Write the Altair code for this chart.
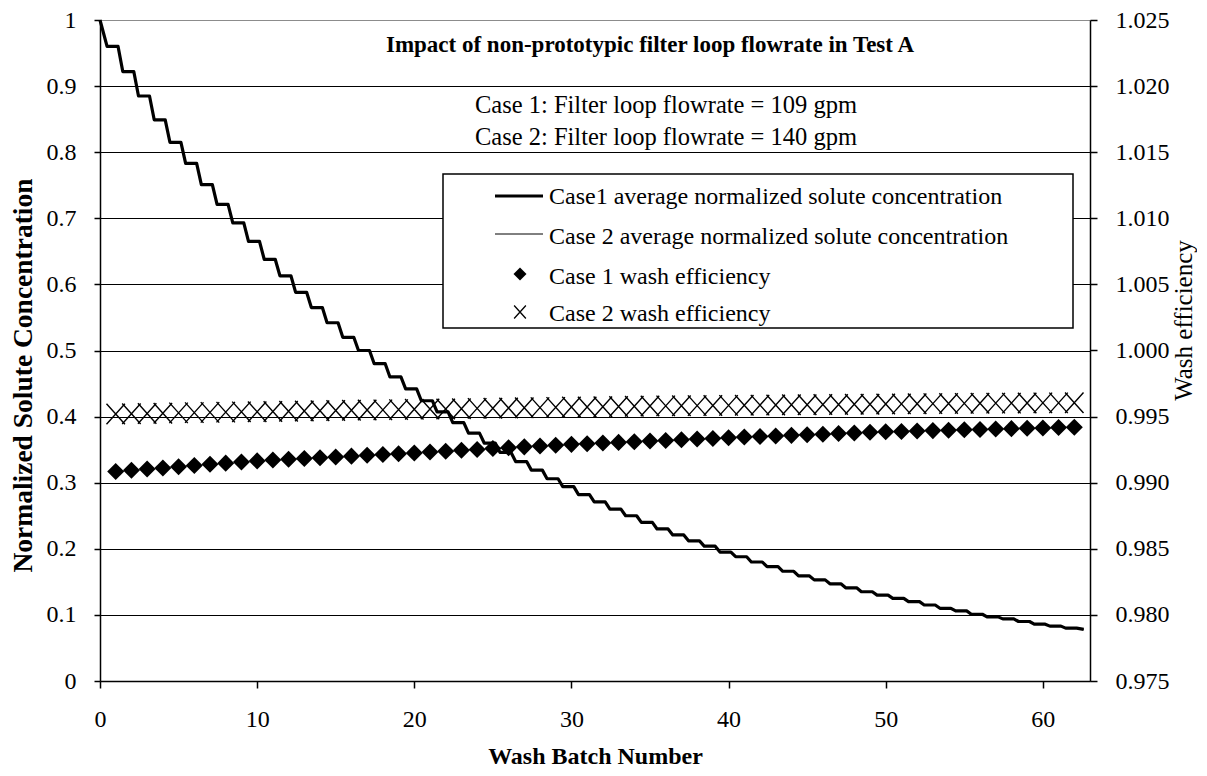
import altair as alt
import pandas as pd

FONT = "Liberation Serif"

# ---------------- data ----------------
# average normalized solute concentration, plateau level after each wash batch (batch 0..62)
conc_case1 = [1.000, 0.960, 0.922, 0.885, 0.849, 0.815, 0.783, 0.751, 0.721, 0.693,
              0.665, 0.638, 0.613, 0.588, 0.565, 0.542, 0.520, 0.500, 0.480, 0.460,
              0.442, 0.424, 0.407, 0.391, 0.375, 0.360, 0.346, 0.332, 0.319, 0.306,
              0.294, 0.282, 0.271, 0.260, 0.250, 0.240, 0.230, 0.221, 0.212, 0.204,
              0.195, 0.188, 0.180, 0.173, 0.166, 0.159, 0.153, 0.147, 0.141, 0.135,
              0.130, 0.125, 0.120, 0.115, 0.110, 0.106, 0.101, 0.097, 0.094, 0.090,
              0.086, 0.083, 0.080]
conc_case2 = [1.000, 0.960, 0.922, 0.885, 0.849, 0.815, 0.783, 0.751, 0.721, 0.693,
              0.665, 0.638, 0.613, 0.588, 0.565, 0.542, 0.520, 0.500, 0.480, 0.460,
              0.442, 0.424, 0.407, 0.391, 0.375, 0.360, 0.346, 0.332, 0.319, 0.306,
              0.294, 0.282, 0.271, 0.260, 0.250, 0.240, 0.230, 0.221, 0.212, 0.204,
              0.195, 0.188, 0.180, 0.173, 0.166, 0.159, 0.153, 0.147, 0.141, 0.135,
              0.130, 0.125, 0.120, 0.115, 0.110, 0.106, 0.101, 0.097, 0.094, 0.090,
              0.086, 0.083, 0.080]
conc_end_x = 62.6
conc_end_value = 0.078

# wash efficiency per batch (batches 1..62)
eff_case1 = [0.99085, 0.99094, 0.99103, 0.99112, 0.99121, 0.99130, 0.99139, 0.99148, 0.99157, 0.99165,
             0.99171, 0.99177, 0.99183, 0.99189, 0.99195, 0.99201, 0.99207, 0.99213, 0.99219, 0.99225,
             0.99232, 0.99238, 0.99245, 0.99251, 0.99258, 0.99264, 0.99271, 0.99277, 0.99284, 0.99290,
             0.99295, 0.99300, 0.99305, 0.99310, 0.99315, 0.99320, 0.99325, 0.99330, 0.99335, 0.99340,
             0.99345, 0.99349, 0.99354, 0.99358, 0.99363, 0.99367, 0.99372, 0.99376, 0.99381, 0.99385,
             0.99388, 0.99391, 0.99394, 0.99397, 0.99400, 0.99403, 0.99406, 0.99409, 0.99412, 0.99414,
             0.99417, 0.99420]
eff_case2 = [0.99520, 0.99522, 0.99524, 0.99526, 0.99528, 0.99530, 0.99532, 0.99534, 0.99536, 0.99537,
             0.99539, 0.99541, 0.99543, 0.99544, 0.99546, 0.99548, 0.99550, 0.99551, 0.99553, 0.99555,
             0.99557, 0.99558, 0.99560, 0.99562, 0.99563, 0.99565, 0.99567, 0.99568, 0.99570, 0.99572,
             0.99573, 0.99575, 0.99576, 0.99578, 0.99580, 0.99581, 0.99582, 0.99583, 0.99584, 0.99585,
             0.99586, 0.99587, 0.99588, 0.99589, 0.99590, 0.99591, 0.99592, 0.99593, 0.99594, 0.99595,
             0.99596, 0.99597, 0.99598, 0.99599, 0.99600, 0.99601, 0.99602, 0.99602, 0.99603, 0.99604,
             0.99604, 0.99605]

x_ticks = [0, 10, 20, 30, 40, 50, 60]
left_ticks = [0, 0.1, 0.2, 0.3, 0.4, 0.5, 0.6, 0.7, 0.8, 0.9, 1]
right_ticks = [0.975, 0.980, 0.985, 0.990, 0.995, 1.000, 1.005, 1.010, 1.015, 1.020, 1.025]

legend_labels = ["Case1 average normalized  solute concentration",
                 "Case 2 average normalized  solute concentration",
                 "Case 1 wash efficiency",
                 "Case 2 wash efficiency"]
title_text = "Impact of non-prototypic filter loop flowrate in Test A"
case_texts = ["Case 1:  Filter  loop  flowrate = 109 gpm",
              "Case 2:  Filter  loop  flowrate = 140 gpm"]


def stepped(levels):
    xs, ys = [0.0], [levels[0]]
    for k in range(1, len(levels)):
        xs += [k - 0.55, k + 0.15]
        ys += [levels[k], levels[k]]
    xs.append(conc_end_x)
    ys.append(conc_end_value)
    return pd.DataFrame({"batch": xs, "conc": ys, "order": range(len(xs))})


df_c1 = stepped(conc_case1)
df_c2 = stepped(conc_case2)
df_e1 = pd.DataFrame({"batch": list(range(1, len(eff_case1) + 1)), "eff": eff_case1})
df_e2 = pd.DataFrame({"batch": list(range(1, len(eff_case2) + 1)), "eff": eff_case2})
one = pd.DataFrame({"a": [0]})

X_SCALE = alt.Scale(domain=[0, 63], nice=False, zero=False)
LEFT_SCALE = alt.Scale(domain=[0, 1], nice=False, zero=False)
RIGHT_SCALE = alt.Scale(domain=[0.975, 1.025], nice=False, zero=False)

x_axis = alt.Axis(title="Wash Batch Number", values=x_ticks, grid=False, tickSize=7,
                  labelPadding=19, labelFlush=False, titleFontWeight="bold", titleFontSize=24,
                  titleY=75, titleBaseline="middle")
left_axis = alt.Axis(title="Normalized Solute Concentration", orient="left", values=left_ticks,
                     format="~g", grid=True,
                     gridColor={"condition": {"test": "datum.value === 1", "value": "#8c8c8c"},
                                "value": "black"},
                     tickSize=6, labelPadding=18, titleFontWeight="bold", titleFontSize=27.5,
                     titleAngle=270, titleX=-77, titleY=355, titleAlign="center",
                     titleBaseline="middle")
right_axis = alt.Axis(title="Wash efficiency", orient="right", values=right_ticks,
                      format=".3f", grid=False, tickSize=7, labelPadding=18,
                      titleFontWeight="normal", titleFontSize=25, titleAngle=270,
                      titleX=93, titleY=300, titleAlign="center", titleBaseline="middle")

line1 = alt.Chart(df_c1).mark_line(color="black", strokeWidth=3.2, strokeJoin="round").encode(
    x=alt.X("batch:Q", scale=X_SCALE, axis=x_axis),
    y=alt.Y("conc:Q", scale=LEFT_SCALE, axis=left_axis),
    order="order:Q")
line2 = alt.Chart(df_c2).mark_line(color="black", strokeWidth=1).encode(
    x=alt.X("batch:Q", scale=X_SCALE, axis=x_axis),
    y=alt.Y("conc:Q", scale=LEFT_SCALE, axis=None),
    order="order:Q")

CROSS = "M-0.9,-1L0.9,1M0.9,-1L-0.9,1"

pts1 = alt.Chart(df_e1).mark_point(shape="diamond", filled=True, color="black", size=290,
                                   opacity=1).encode(
    x=alt.X("batch:Q", scale=X_SCALE, axis=x_axis),
    y=alt.Y("eff:Q", scale=RIGHT_SCALE, axis=right_axis))
pts2 = alt.Chart(df_e2).mark_point(shape=CROSS, filled=False, color="black", size=420,
                                   strokeWidth=1.4, opacity=1).encode(
    x=alt.X("batch:Q", scale=X_SCALE, axis=x_axis),
    y=alt.Y("eff:Q", scale=RIGHT_SCALE, axis=None))

# ---------------- annotations ----------------
title_mark = alt.Chart(one).mark_text(text=title_text, font=FONT, fontSize=23, fontWeight="bold",
                                      align="center", baseline="alphabetic", color="black").encode(
    x=alt.value(550), y=alt.value(32))
case_marks = [
    alt.Chart(one).mark_text(text=t, font=FONT, fontSize=24.5, align="left",
                             baseline="alphabetic", color="black").encode(
        x=alt.value(375), y=alt.value(yy))
    for t, yy in zip(case_texts, [93, 125])
]

legend_box = alt.Chart(one).mark_rect(fill="white", stroke="black", strokeWidth=1.5).encode(
    x=alt.value(343), x2=alt.value(973), y=alt.value(154), y2=alt.value(308))
leg_line1 = alt.Chart(one).mark_rule(color="black", strokeWidth=3.2).encode(
    x=alt.value(395), x2=alt.value(443), y=alt.value(176))
leg_line2 = alt.Chart(one).mark_rule(color="black", strokeWidth=1).encode(
    x=alt.value(395), x2=alt.value(443), y=alt.value(214))
leg_pt1 = alt.Chart(one).mark_point(shape="diamond", filled=True, color="black", size=170,
                                    opacity=1).encode(x=alt.value(420), y=alt.value(254))
leg_pt2 = alt.Chart(one).mark_point(shape=CROSS, filled=False, color="black", size=170,
                                    strokeWidth=1.3, opacity=1).encode(
    x=alt.value(420), y=alt.value(292))
leg_texts = [
    alt.Chart(one).mark_text(text=t, font=FONT, fontSize=24, align="left",
                             baseline="alphabetic", color="black").encode(
        x=alt.value(449), y=alt.value(yy))
    for t, yy in zip(legend_labels, [184, 224, 264, 301])
]

chart = alt.layer(
    line1, line2, pts1, pts2,
    title_mark, *case_marks,
    legend_box, leg_line1, leg_line2, leg_pt1, leg_pt2, *leg_texts,
).resolve_scale(y="independent").properties(
    width=990, height=661,
    autosize=alt.AutoSizeParams(type="none"),
    padding={"left": 92, "top": 12, "right": 107, "bottom": 89},
    background="white",
).configure_view(stroke=None).configure_axis(
    labelFont=FONT, titleFont=FONT, labelFontSize=24, labelColor="black", titleColor="black",
    tickColor="black", domainColor="black", domainWidth=1.5, tickWidth=1.5, gridWidth=1,
    gridOpacity=1,
)

chart.save("out.html", embed_options={"renderer": "svg", "actions": False})
